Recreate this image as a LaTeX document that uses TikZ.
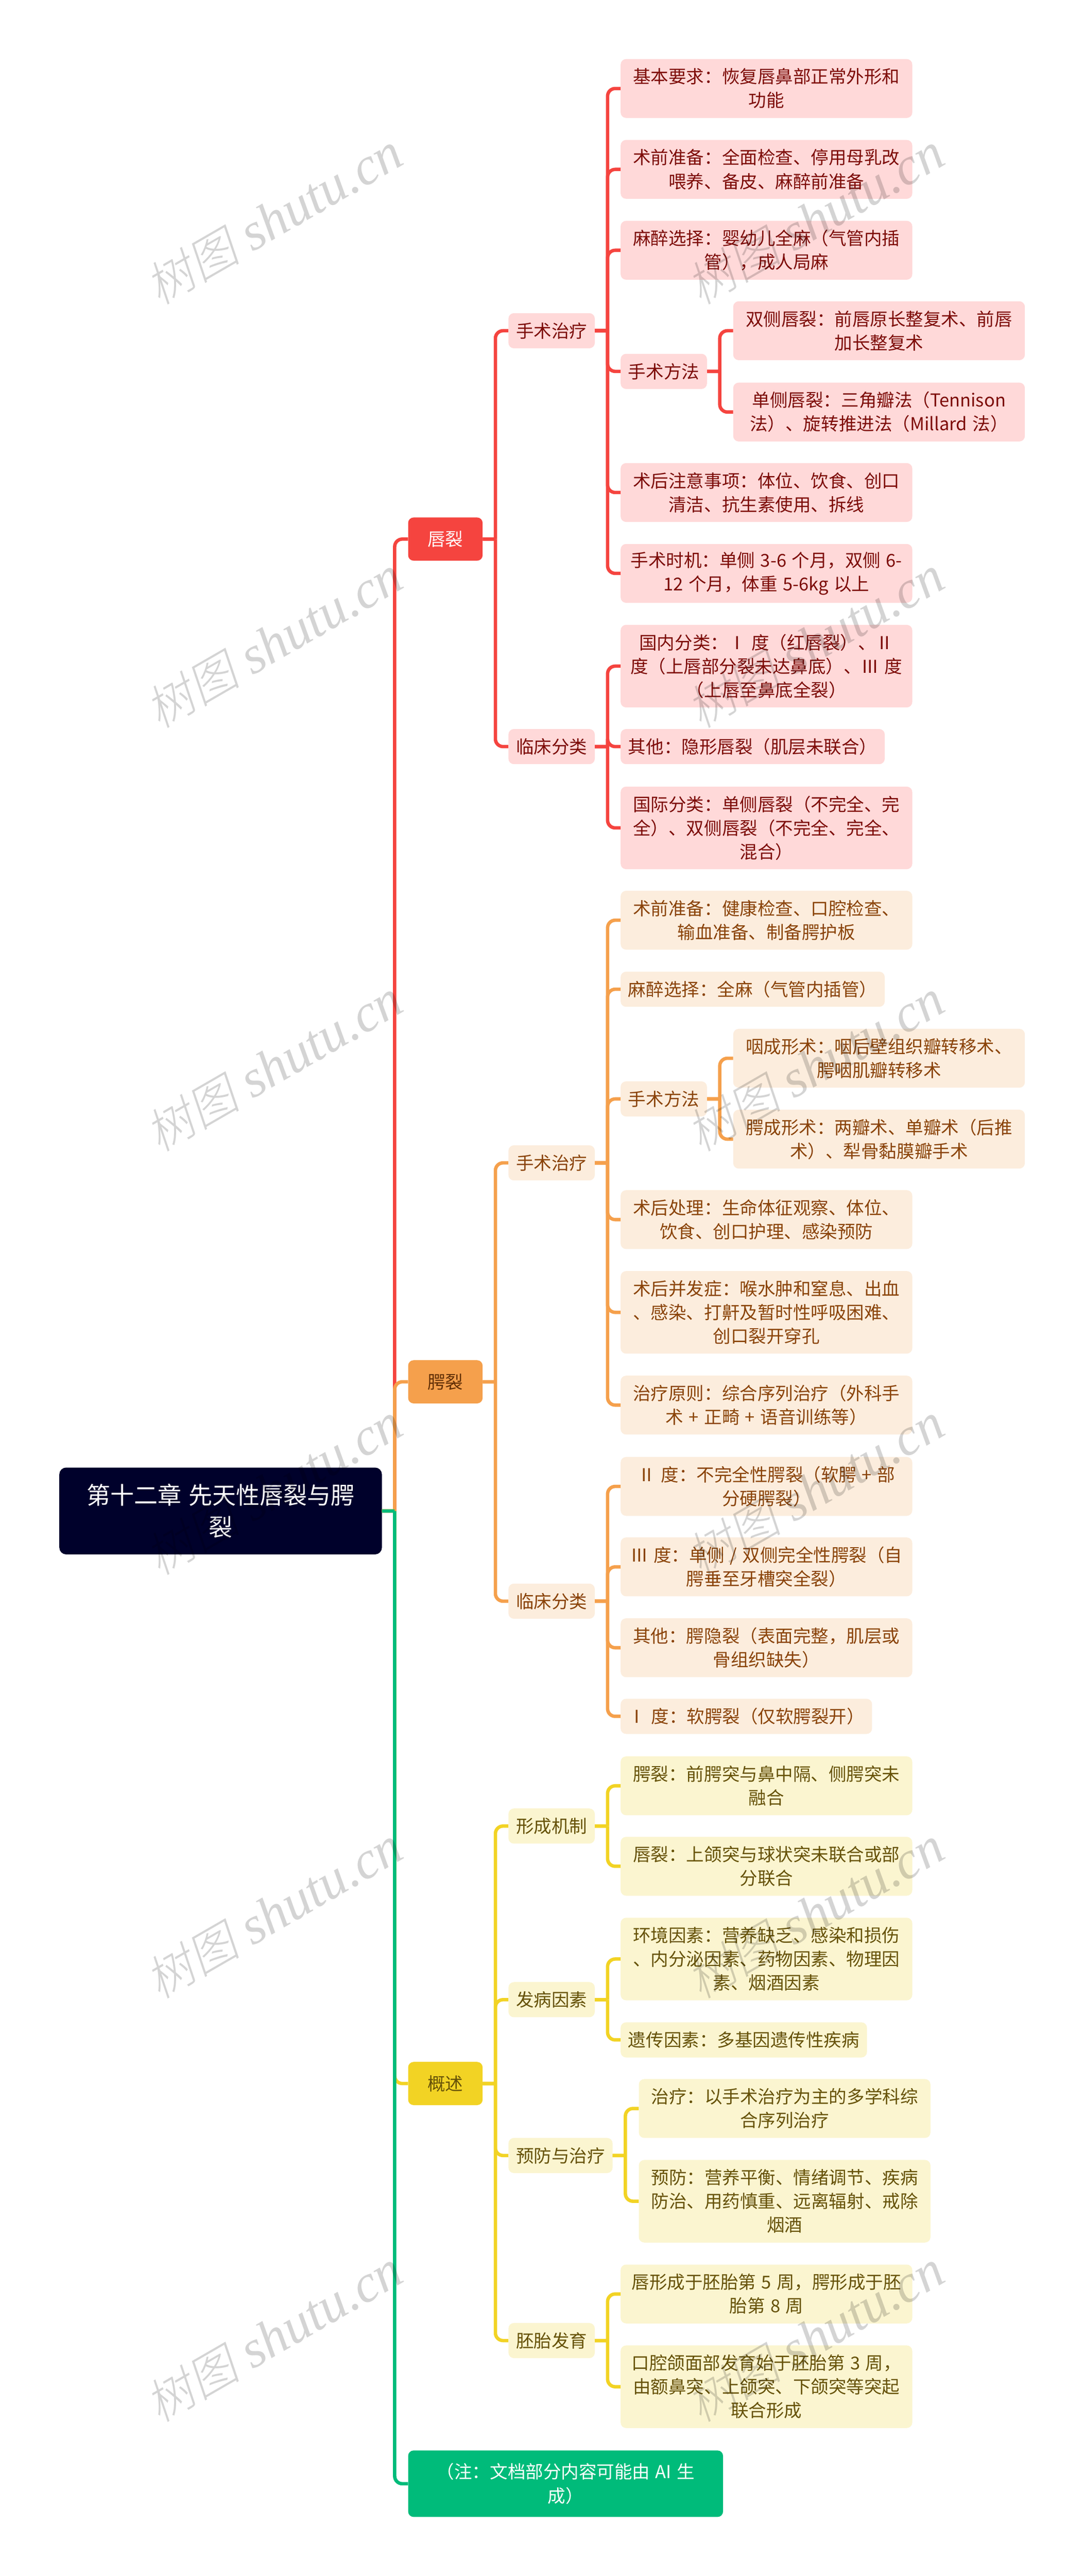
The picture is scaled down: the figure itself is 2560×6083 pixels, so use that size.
\documentclass[tikz,border=0pt]{standalone}
\usepackage{fontspec}
\setmainfont[WordSpace=1.35]{Noto Sans CJK SC}
\newfontfamily\wmhan[FakeSlant=0.2]{Noto Sans CJK SC Light}
\newfontfamily\wmlatin{Liberation Serif}

\definecolor{redline}{HTML}{F5443F}
\definecolor{redfill}{HTML}{FFD9D9}
\definecolor{redtext}{HTML}{7D0B07}
\definecolor{orgline}{HTML}{F5A04C}
\definecolor{orgfill}{HTML}{FCEDDD}
\definecolor{orgtext}{HTML}{8A4308}
\definecolor{yelline}{HTML}{F2D324}
\definecolor{yelfill}{HTML}{FBF5D0}
\definecolor{yeltext}{HTML}{665208}
\definecolor{grnline}{HTML}{00BB7A}
\definecolor{rootfill}{HTML}{00012B}

\newcommand{\marktext}{{\fontsize{112}{112}\selectfont\wmhan 树图}\hspace{30pt}{\fontsize{125}{125}\selectfont\wmlatin\itshape shutu.cn}}

\tikzset{
  box/.style={anchor=west, inner sep=0pt, rounded corners=13pt, align=center,
    minimum height=139pt, font=\fontsize{42}{56}\selectfont},
  redbox/.style={box, fill=redfill, text=redtext, minimum width=689pt},
  orgbox/.style={box, fill=orgfill, text=orgtext, minimum width=689pt},
  yelbox/.style={box, fill=yelfill, text=yeltext, minimum width=689pt},
  thin box/.style={minimum height=83pt},
  tall box/.style={minimum height=195pt},
  topic/.style={thin box, minimum width=204pt},
  branch/.style={box, minimum width=176pt, minimum height=102pt},
  elbow/.style={to path={-- ++(30pt,0pt) ++(0pt,0pt) [rounded corners=18pt] |- (\tikztotarget)}},
  link/.style={line width=8pt},
  redlink/.style={link, draw=redline},
  orglink/.style={link, draw=orgline},
  yellink/.style={link, draw=yelline},
  grnlink/.style={link, draw=grnline},
  mark text/.style={inner sep=0pt, rotate=30, text=black, text opacity=0.17}
}

\begin{document}
\begin{tikzpicture}[x=1pt, y=-1pt]
    \path[use as bounding box, fill=white] (0,0) rectangle (2560,6083);

    % root and the four branches
    \node[box, fill=rootfill, text=white, minimum width=762pt, minimum height=205pt,
      rounded corners=16pt, font=\fontsize{56}{75}\selectfont] (root) at (140,3568) {第十二章 先天性唇裂与腭\\裂};
    \node[branch, fill=redline, text=white] (lip) at (964,1273) {唇裂};
    \node[branch, fill=orgline, text=orgtext!70!black] (palate) at (964,3263) {腭裂};
    \node[branch, fill=yelline, text=yeltext] (overview) at (964,4920) {概述};
    \node[box, fill=grnline, text=white, minimum width=744pt, minimum height=157pt] (note) at (964,5865) {（注：文档部分内容可能由 AI 生\\成）};

    % lip cleft
    \node[redbox, topic] (lipsurgery) at (1201,781) {手术治疗};
    \node[redbox, topic] (lipclass) at (1201,1763) {临床分类};
    \node[redbox] (lipbasic) at (1466,209) {基本要求：恢复唇鼻部正常外形和\\功能};
    \node[redbox] (lipprep) at (1466,400) {术前准备：全面检查、停用母乳改\\喂养、备皮、麻醉前准备};
    \node[redbox] (lipanes) at (1466,591) {麻醉选择：婴幼儿全麻（气管内插\\管），成人局麻};
    \node[redbox, topic] (lipmethod) at (1466,877) {手术方法};
    \node[redbox] (lipboth) at (1732,781) {双侧唇裂：前唇原长整复术、前唇\\加长整复术};
    \node[redbox] (lipone) at (1732,973) {单侧唇裂：三角瓣法（Tennison\\法）、旋转推进法（Millard 法）};
    \node[redbox] (lipafter) at (1466,1163) {术后注意事项：体位、饮食、创口\\清洁、抗生素使用、拆线};
    \node[redbox] (liptime) at (1466,1354) {手术时机：单侧 3-6 个月，双侧 6-\\12 个月，体重 5-6kg 以上};
    \node[redbox, tall box] (lipdomestic) at (1466,1573) {国内分类：Ⅰ 度（红唇裂）、Ⅱ\\度（上唇部分裂未达鼻底）、Ⅲ 度\\（上唇至鼻底全裂）};
    \node[redbox, thin box, minimum width=624pt] (lipother) at (1466,1763) {其他：隐形唇裂（肌层未联合）};
    \node[redbox, tall box] (lipworld) at (1466,1955) {国际分类：单侧唇裂（不完全、完\\全）、双侧唇裂（不完全、完全、\\混合）};

    % palate cleft
    \node[orgbox, topic] (palsurgery) at (1201,2746) {手术治疗};
    \node[orgbox, topic] (palclass) at (1201,3781) {临床分类};
    \node[orgbox] (palprep) at (1466,2173) {术前准备：健康检查、口腔检查、\\输血准备、制备腭护板};
    \node[orgbox, thin box, minimum width=624pt] (palanes) at (1466,2336) {麻醉选择：全麻（气管内插管）};
    \node[orgbox, topic] (palmethod) at (1466,2595) {手术方法};
    \node[orgbox] (palpharynx) at (1732,2499) {咽成形术：咽后壁组织瓣转移术、\\腭咽肌瓣转移术};
    \node[orgbox] (palplasty) at (1732,2690) {腭成形术：两瓣术、单瓣术（后推\\术）、犁骨黏膜瓣手术};
    \node[orgbox] (palafter) at (1466,2880) {术后处理：生命体征观察、体位、\\饮食、创口护理、感染预防};
    \node[orgbox, tall box] (palcompl) at (1466,3099) {术后并发症：喉水肿和窒息、出血\\、感染、打鼾及暂时性呼吸困难、\\创口裂开穿孔};
    \node[orgbox] (palrule) at (1466,3318) {治疗原则：综合序列治疗（外科手\\术 + 正畸 + 语音训练等）};
    \node[orgbox] (paltwo) at (1466,3510) {Ⅱ 度：不完全性腭裂（软腭 + 部\\分硬腭裂）};
    \node[orgbox] (palthree) at (1466,3700) {Ⅲ 度：单侧 / 双侧完全性腭裂（自\\腭垂至牙槽突全裂）};
    \node[orgbox] (palother) at (1466,3891) {其他：腭隐裂（表面完整，肌层或\\骨组织缺失）};
    \node[orgbox, thin box, minimum width=594pt] (palone) at (1466,4053) {Ⅰ 度：软腭裂（仅软腭裂开）};

    % overview
    \node[yelbox, topic] (ovform) at (1201,4312) {形成机制};
    \node[yelbox, topic] (ovcause) at (1201,4722) {发病因素};
    \node[yelbox, topic, minimum width=246pt] (ovprevent) at (1201,5090) {预防与治疗};
    \node[yelbox, topic] (ovembryo) at (1201,5527) {胚胎发育};
    \node[yelbox] (ovpalate) at (1466,4217) {腭裂：前腭突与鼻中隔、侧腭突未\\融合};
    \node[yelbox] (ovlip) at (1466,4407) {唇裂：上颌突与球状突未联合或部\\分联合};
    \node[yelbox, tall box] (ovenv) at (1466,4626) {环境因素：营养缺乏、感染和损伤\\、内分泌因素、药物因素、物理因\\素、烟酒因素};
    \node[yelbox, thin box, minimum width=582pt] (ovgene) at (1466,4817) {遗传因素：多基因遗传性疾病};
    \node[yelbox] (ovcure) at (1509,4979) {治疗：以手术治疗为主的多学科综\\合序列治疗};
    \node[yelbox, tall box] (ovguard) at (1509,5198) {预防：营养平衡、情绪调节、疾病\\防治、用药慎重、远离辐射、戒除\\烟酒};
    \node[yelbox] (ovweek) at (1466,5417) {唇形成于胚胎第 5 周，腭形成于胚\\胎第 8 周};
    \node[yelbox, tall box] (ovmouth) at (1466,5636) {口腔颌面部发育始于胚胎第 3 周，\\由额鼻突、上颌突、下颌突等突起\\联合形成};

    % connectors
    \draw[redlink] (root.east) to[elbow] (lip.west);
    \draw[redlink] (lip.east) to[elbow] (lipsurgery.west);
    \draw[redlink] (lip.east) to[elbow] (lipclass.west);
    \draw[redlink] (lipsurgery.east) to[elbow] (lipbasic.west);
    \draw[redlink] (lipsurgery.east) to[elbow] (lipprep.west);
    \draw[redlink] (lipsurgery.east) to[elbow] (lipanes.west);
    \draw[redlink] (lipsurgery.east) to[elbow] (lipmethod.west);
    \draw[redlink] (lipsurgery.east) to[elbow] (lipafter.west);
    \draw[redlink] (lipsurgery.east) to[elbow] (liptime.west);
    \draw[redlink] (lipmethod.east) to[elbow] (lipboth.west);
    \draw[redlink] (lipmethod.east) to[elbow] (lipone.west);
    \draw[redlink] (lipclass.east) to[elbow] (lipdomestic.west);
    \draw[redlink] (lipclass.east) to[elbow] (lipother.west);
    \draw[redlink] (lipclass.east) to[elbow] (lipworld.west);

    \draw[orglink] (root.east) to[elbow] (palate.west);
    \draw[orglink] (palate.east) to[elbow] (palsurgery.west);
    \draw[orglink] (palate.east) to[elbow] (palclass.west);
    \draw[orglink] (palsurgery.east) to[elbow] (palprep.west);
    \draw[orglink] (palsurgery.east) to[elbow] (palanes.west);
    \draw[orglink] (palsurgery.east) to[elbow] (palmethod.west);
    \draw[orglink] (palsurgery.east) to[elbow] (palafter.west);
    \draw[orglink] (palsurgery.east) to[elbow] (palcompl.west);
    \draw[orglink] (palsurgery.east) to[elbow] (palrule.west);
    \draw[orglink] (palmethod.east) to[elbow] (palpharynx.west);
    \draw[orglink] (palmethod.east) to[elbow] (palplasty.west);
    \draw[orglink] (palclass.east) to[elbow] (paltwo.west);
    \draw[orglink] (palclass.east) to[elbow] (palthree.west);
    \draw[orglink] (palclass.east) to[elbow] (palother.west);
    \draw[orglink] (palclass.east) to[elbow] (palone.west);

    \draw[yellink] (root.east) to[elbow] (overview.west);
    \draw[yellink] (overview.east) to[elbow] (ovform.west);
    \draw[yellink] (overview.east) to[elbow] (ovcause.west);
    \draw[yellink] (overview.east) to[elbow] (ovprevent.west);
    \draw[yellink] (overview.east) to[elbow] (ovembryo.west);
    \draw[yellink] (ovform.east) to[elbow] (ovpalate.west);
    \draw[yellink] (ovform.east) to[elbow] (ovlip.west);
    \draw[yellink] (ovcause.east) to[elbow] (ovenv.west);
    \draw[yellink] (ovcause.east) to[elbow] (ovgene.west);
    \draw[yellink] (ovprevent.east) to[elbow] (ovcure.west);
    \draw[yellink] (ovprevent.east) to[elbow] (ovguard.west);
    \draw[yellink] (ovembryo.east) to[elbow] (ovweek.west);
    \draw[yellink] (ovembryo.east) to[elbow] (ovmouth.west);

    \draw[grnlink] (root.east) to[elbow] (note.west);

    % watermark
    \node[mark text] (marka) at (647,517) {\marktext};
    \node[mark text] (markb) at (1926,517) {\marktext};
    \node[mark text] (markc) at (647,1517) {\marktext};
    \node[mark text] (markd) at (1926,1517) {\marktext};
    \node[mark text] (marke) at (647,2517) {\marktext};
    \node[mark text] (markf) at (1926,2517) {\marktext};
    \node[mark text] (markg) at (647,3517) {\marktext};
    \node[mark text] (markh) at (1926,3517) {\marktext};
    \node[mark text] (marki) at (647,4517) {\marktext};
    \node[mark text] (markj) at (1926,4517) {\marktext};
    \node[mark text] (markk) at (647,5517) {\marktext};
    \node[mark text] (markl) at (1926,5517) {\marktext};
\end{tikzpicture}
\end{document}
